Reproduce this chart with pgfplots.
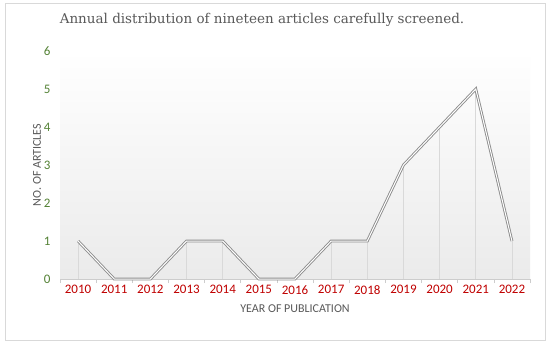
\documentclass[border=0pt]{standalone}
\usepackage{pgfplots}
\pgfplotsset{compat=1.18}
\usepackage{fontspec}
\setmainfont{Carlito}
\newfontfamily\titlefont{DejaVu Serif}
\definecolor{ygreen}{HTML}{548235}
\definecolor{xred}{HTML}{C00000}
\definecolor{labgray}{HTML}{595959}
\definecolor{linegray}{HTML}{8C8C8C}
\begin{document}
\begin{tikzpicture}[x=1bp,y=1bp]
\fill[white] (0,0) rectangle (550,346);
\draw[black!15, line width=0.8bp] (5,6) rectangle (545,343);
\node[text=labgray, font=\titlefont\fontsize{13.5bp}{15bp}\selectfont] at (262,326) {Annual distribution of nineteen articles carefully screened.};
\begin{axis}[
    at={(60bp,67bp)}, anchor=south west,
    scale only axis,
    width=470bp, height=228bp,
    xmin=-0.5, xmax=12.5,
    ymin=0, ymax=6,
    xtick={0,...,12},
    xticklabels={2010,2011,2012,2013,2014,2015,2016,2017,2018,2019,2020,2021,2022},
    ytick={0,...,6},
    major tick length=0pt,
    extra x ticks={-0.5,0.5,...,12.5},
    extra x tick labels={},
    extra x tick style={major tick length=4bp, tick align=outside, tick style={black!20, line width=0.6bp}},
    axis x line*=bottom,
    axis y line*=left,
    x axis line style={black!20, line width=0.8bp, -},
    y axis line style={draw=none},
    x tick label style={text=xred, font=\fontsize{13bp}{15bp}\selectfont, yshift=-3bp},
    y tick label style={text=ygreen, font=\fontsize{13bp}{15bp}\selectfont, xshift=-6bp},
    /pgf/number format/assume math mode=true,
    xlabel={YEAR OF PUBLICATION},
    ylabel={NO. OF ARTICLES},
    xlabel style={text=labgray, font=\fontsize{12bp}{14bp}\selectfont, yshift=1bp},
    ylabel style={text=labgray, font=\fontsize{12bp}{14bp}\selectfont, yshift=-4bp},
    axis background/.style={top color=white, bottom color=black!8},
    clip=false,
]
\addplot[ycomb, black!15, line width=0.6bp, mark=none] coordinates {
    (0,1) (1,0) (2,0) (3,1) (4,1) (5,0) (6,0) (7,1) (8,1) (9,3) (10,4) (11,5) (12,1)
};
\addplot[draw=linegray, line width=0.9bp, double=white, double distance=1bp, mark=none] coordinates {
    (0,1) (1,0) (2,0) (3,1) (4,1) (5,0) (6,0) (7,1) (8,1) (9,3) (10,4) (11,5) (12,1)
};
\end{axis}
\end{tikzpicture}
\end{document}
